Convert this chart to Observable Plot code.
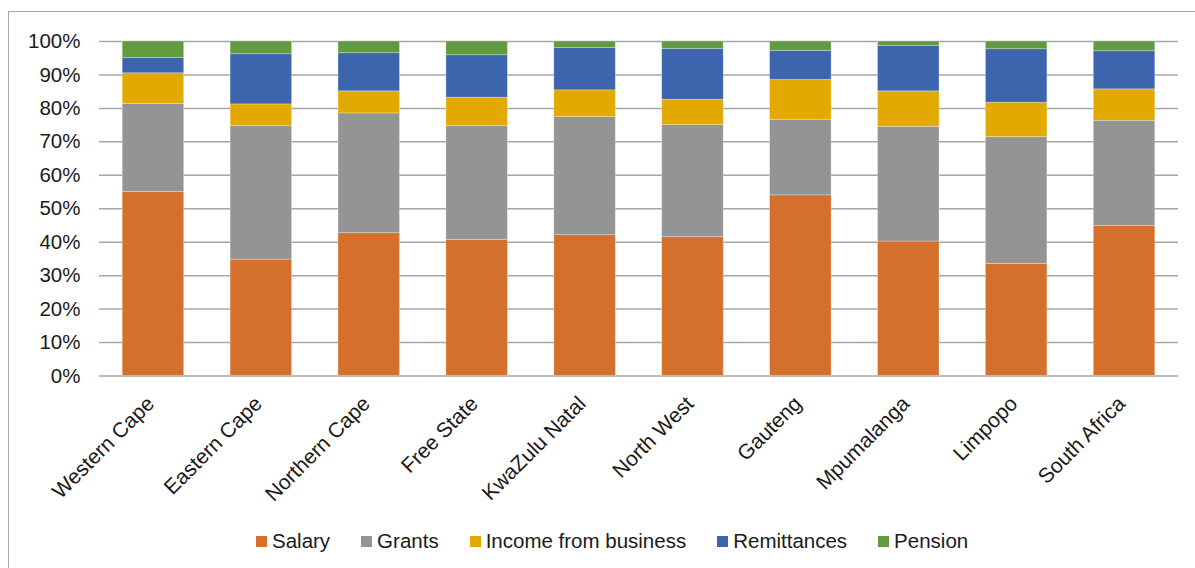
<!DOCTYPE html>
<html>
<head>
<meta charset="utf-8">
<script src="https://cdn.jsdelivr.net/npm/d3@7"></script>
<script src="https://cdn.jsdelivr.net/npm/@observablehq/plot@0.6"></script>
<style>
  html, body { margin: 0; padding: 0; background: #fff; }
  #wrap { position: relative; width: 1195px; height: 568px; overflow: hidden; font-family: "Liberation Sans", Arial, sans-serif; }
  #frame { position: absolute; left: 8px; top: 11px; width: 1300px; height: 700px; border-left: 1px solid #a8a8a8; border-top: 1px solid #a8a8a8; box-sizing: border-box; }
  #chart { position: absolute; left: 0; top: 0; }
  #legend { position: absolute; left: 256px; top: 529px; display: flex; gap: 31px; font-size: 20.5px; line-height: 24px; color: #1a1a1a; white-space: nowrap; }
  .item { display: flex; align-items: center; gap: 5px; }
  .sw { width: 11px; height: 11px; display: inline-block; }
</style>
</head>
<body>
<div id="wrap">
  <div id="frame"></div>
  <div id="chart"></div>
  <div id="legend"></div>
</div>
<script>
const regions = ["Western Cape", "Eastern Cape", "Northern Cape", "Free State", "KwaZulu Natal", "North West", "Gauteng", "Mpumalanga", "Limpopo", "South Africa"];
const seriesNames = ["Salary", "Grants", "Income from business", "Remittances", "Pension"];
const salary      = [55.0, 34.8, 42.7, 40.7, 42.1, 41.5, 54.0, 40.2, 33.5, 44.9];
const grants      = [26.3, 39.9, 35.8, 34.0, 35.3, 33.5, 22.6, 34.3, 37.9, 31.4];
const business    = [9.2, 6.5, 6.6, 8.5, 8.0, 7.6, 11.9, 10.6, 10.3, 9.4];
const remittances = [4.6, 15.0, 11.4, 12.7, 12.7, 15.2, 8.7, 13.6, 16.0, 11.4];
const pension     = [4.9, 3.8, 3.5, 4.1, 1.9, 2.2, 2.8, 1.3, 2.3, 2.9];
const yTicks = [0, 10, 20, 30, 40, 50, 60, 70, 80, 90, 100];
const colors = ["#D4702C", "#949494", "#E2AA00", "#3D65AD", "#629A3F"];

const seriesValues = [salary, grants, business, remittances, pension];
const data = [];
regions.forEach((r, i) => {
  seriesNames.forEach((s, j) => data.push({region: r, series: s, value: seriesValues[j][i]}));
});

const chart = Plot.plot({
  width: 1195,
  height: 520,
  marginLeft: 99,
  marginRight: 17,
  marginTop: 41,
  marginBottom: 144.5,
  style: {fontFamily: "'Liberation Sans', Arial, sans-serif", fontSize: "20.5px", color: "#1a1a1a", background: "transparent"},
  x: {domain: regions, paddingInner: 0.43, paddingOuter: 0.215, round: false, axis: null},
  y: {domain: [0, 100], axis: null},
  color: {domain: seriesNames, range: colors},
  marks: [
    Plot.gridY(yTicks, {stroke: "#a6a6a6", strokeOpacity: 1, strokeWidth: 1.5}),
    Plot.barY(data, {x: "region", y: "value", fill: "series", order: seriesNames, stroke: "#ffffff", strokeOpacity: 0.35, strokeWidth: 0.8}),
    Plot.axisY(yTicks, {tickSize: 0, tickPadding: 19, tickFormat: d => d + "%", fontSize: "20.5px", label: null}),
    Plot.text(regions, {x: d => d, frameAnchor: "bottom", rotate: -45, textAnchor: "end", lineAnchor: "bottom", dx: 2, dy: 29, fontSize: "21px", fill: "#1a1a1a"})
  ]
});
document.getElementById("chart").appendChild(chart);

const legend = document.getElementById("legend");
seriesNames.forEach((s, i) => {
  const it = document.createElement("div");
  it.className = "item";
  const sw = document.createElement("span");
  sw.className = "sw";
  sw.style.background = colors[i];
  const t = document.createElement("span");
  t.textContent = s;
  it.appendChild(sw);
  it.appendChild(t);
  legend.appendChild(it);
});
</script>
</body>
</html>
